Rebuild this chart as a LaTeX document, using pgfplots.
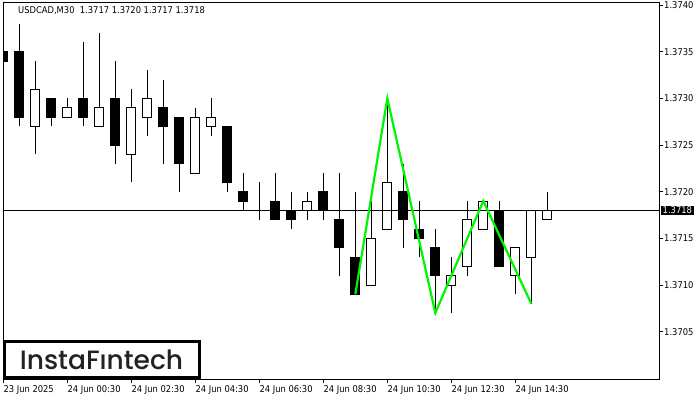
\documentclass[border=0pt]{standalone}
\usepackage{fontspec}
\setmainfont{DejaVu Sans Condensed}
\newfontfamily\logofont{Poppins}[UprightFont=* Medium]
\usepackage{pgfplots}
\pgfplotsset{compat=1.18}
\usepackage{pgfplotstable}

% k: bar index (30-minute bars), O H L C prices
\pgfplotstableread{
k O H L C
0 1.3735 1.3738 1.3730 1.3734
1 1.3735 1.3738 1.3727 1.3728
2 1.3727 1.3734 1.3724 1.3731
3 1.3730 1.3730 1.3727 1.3728
4 1.3728 1.3730 1.3728 1.3729
5 1.3730 1.3736 1.3727 1.3728
6 1.3727 1.3737 1.3727 1.3729
7 1.3730 1.3734 1.3723 1.3725
8 1.3724 1.3731 1.3721 1.3729
9 1.3728 1.3733 1.3726 1.3730
10 1.3729 1.3732 1.3723 1.3727
11 1.3728 1.3728 1.3720 1.3723
12 1.3722 1.3729 1.3722 1.3728
13 1.3727 1.3730 1.3726 1.3728
14 1.3727 1.3727 1.3720 1.3721
15 1.3720 1.3722 1.3718 1.3719
16 1.3718 1.3721 1.3717 1.3718
17 1.3719 1.3722 1.3717 1.3717
18 1.3718 1.3720 1.3716 1.3717
19 1.3718 1.3720 1.3717 1.3719
20 1.3720 1.3722 1.3717 1.3718
21 1.3717 1.3722 1.3711 1.3714
22 1.3713 1.3720 1.3709 1.3709
23 1.3710 1.3719 1.3710 1.3715
24 1.3716 1.3730 1.3716 1.3721
25 1.3720 1.3723 1.3714 1.3717
26 1.3716 1.3719 1.3713 1.3715
27 1.3714 1.3716 1.3707 1.3711
28 1.3710 1.3713 1.3707 1.3711
29 1.3712 1.3719 1.3711 1.3717
30 1.3716 1.3719 1.3716 1.3719
31 1.3718 1.3719 1.3712 1.3712
32 1.3711 1.3714 1.3709 1.3714
33 1.3713 1.3718 1.3708 1.3718
34 1.3717 1.3720 1.3717 1.3718
}\candles

\pgfplotstableread{
k P
22 1.3709
24 1.3730
27 1.3707
30 1.3719
33 1.3708
}\zigzag

\pgfplotstableread{
k P
-1 1.3718
42 1.3718
}\bidline

\definecolor{zz}{RGB}{0,245,0}
\definecolor{logo}{RGB}{34,34,34}

\pgfplotsset{
  baseax/.style={
    at={(3bp,21bp)}, anchor=south west,
    scale only axis, width=656bp, height=376.5bp,
    xmin=-0.02, xmax=40.98, ymin=-0.07, ymax=40.27,
  },
}
\newcommand\tickfont{\fontsize{9.3bp}{10bp}\selectfont}

\begin{document}
\begin{tikzpicture}
\path[use as bounding box] (0,0) rectangle (700bp,400bp);
\fill[white] (0,0) rectangle (700bp,400bp);

% axis frame, ticks, wicks
\begin{axis}[baseax,
  axis line style={black, line width=1bp},
  tick align=outside, xtick pos=bottom, ytick pos=right, yticklabel pos=right,
  major tick length=4bp,
  tick style={black, line width=1bp},
  xtick={0,4,8,12,16,20,24,28,32},
  xticklabels={23 Jun 2025,24 Jun 00:30,24 Jun 02:30,24 Jun 04:30,24 Jun 06:30,24 Jun 08:30,24 Jun 10:30,24 Jun 12:30,24 Jun 14:30},
  ytick={5,10,15,20,25,30,35,40},
  yticklabels={1.3705,1.3710,1.3715,1.3720,1.3725,1.3730,1.3735,1.3740},
  ticklabel style={font=\tickfont},
  xticklabel style={anchor=north west, inner sep=0pt, yshift=-2bp},
  yticklabel style={anchor=west, inner sep=0pt, xshift=1bp},
  /pgf/number format/assume math mode=true,
]
\addplot[draw=none, mark=none, forget plot,
  error bars/.cd, y dir=plus, y explicit, error mark=none,
  error bar style={draw=black, solid, line width=1bp}]
  table[x=k, y expr={(\thisrow{L}-1.37)*10000},
        y error plus expr={(\thisrow{H}-\thisrow{L})*10000}] {\candles};
\end{axis}

% candle bodies
\begin{axis}[baseax, hide axis, ybar stacked, bar width=9bp]
\addplot[draw=none, fill=none]
  table[x=k, y expr={(min(\thisrow{O},\thisrow{C})-1.37)*10000}] {\candles};
\addplot[draw=black, fill=black, line width=1bp]
  table[x=k, y expr={max(\thisrow{O}-\thisrow{C},0)*10000}] {\candles};
\addplot[draw=black, fill=white, line width=1bp]
  table[x=k, y expr={max(\thisrow{C}-\thisrow{O},0)*10000}] {\candles};
\end{axis}

% bid line, pattern, price label
\begin{axis}[baseax, hide axis]
\addplot[black, line width=1bp, mark=none]
  table[x=k, y expr={(\thisrow{P}-1.37)*10000}] {\bidline};
\addplot[zz, line width=2.2bp, mark=none, line join=miter]
  table[x=k, y expr={(\thisrow{P}-1.37)*10000}] {\zigzag};
\end{axis}
\begin{axis}[baseax, hide axis, clip=false]
\node[fill=black, text=white, anchor=west, inner xsep=2bp, inner ysep=0pt,
  minimum height=8.5bp, font=\tickfont, xshift=1.5bp]
  at (axis cs:40.98,18) {1.3718};
\end{axis}

% title
\node[anchor=west, inner sep=0pt, font=\tickfont] at (18bp,389bp)
  {USDCAD,M30\ \ 1.3717 1.3720 1.3717 1.3718};

% logo
\draw[black, line width=3bp, fill=white] (4.2bp,22.2bp) rectangle (199.8bp,58.2bp);
\node[anchor=base, inner sep=0pt, text=logo, font=\logofont\fontsize{26.5bp}{30bp}\selectfont]
  at (101.5bp,31bp) {InstaFıntech};
\end{tikzpicture}
\end{document}
